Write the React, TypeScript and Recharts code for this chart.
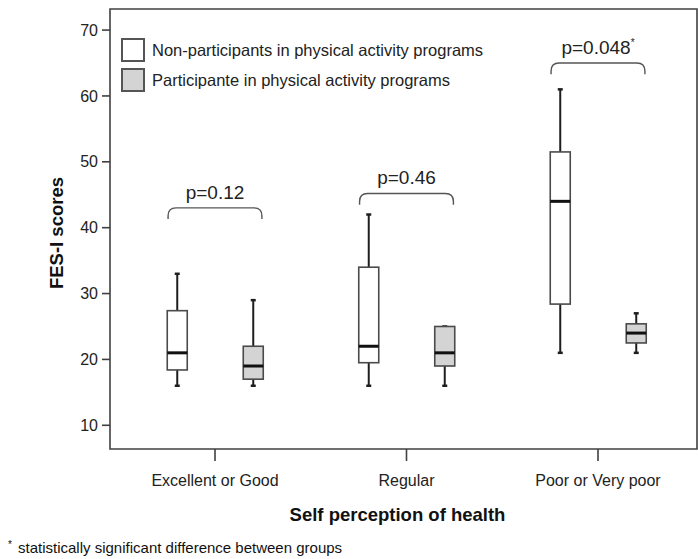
import React from 'react';
import { ComposedChart, Bar, XAxis, YAxis, ReferenceArea, Legend, Label } from 'recharts';

const FONT = '"Liberation Sans", Arial, Helvetica, sans-serif';

const categories = ['Excellent or Good', 'Regular', 'Poor or Very poor'];
const categoryPositions = [1, 2, 3];
const seriesNames = [
  'Non-participants in physical activity programs',
  'Participante in physical activity programs',
];
const seriesFills = ['#ffffff', '#d4d4d4'];

const nonPartMin = [16, 16, 21];
const nonPartQ1 = [18.4, 19.5, 28.4];
const nonPartMedian = [21, 22, 44];
const nonPartQ3 = [27.4, 34, 51.5];
const nonPartMax = [33, 42, 61];

const partMin = [16, 16, 21];
const partQ1 = [17, 19, 22.5];
const partMedian = [19, 21, 24];
const partQ3 = [22, 25, 25.4];
const partMax = [29, 25, 27];

const yTicks = [10, 20, 30, 40, 50, 60, 70];
const pLabels = ['p=0.12', 'p=0.46', 'p=0.048'];
const pSignificant = [false, false, true];
const bracketLevels = [43.0, 45.2, 65.0];

const X_DOMAIN: [number, number] = [0.4517, 3.517];
const Y_DOMAIN: [number, number] = [6.4, 73.2];

const data = categories.map((name, i) => ({
  x: categoryPositions[i],
  name,
  nonPart: [nonPartMin[i], nonPartMax[i]],
  nonPartStats: { min: nonPartMin[i], q1: nonPartQ1[i], median: nonPartMedian[i], q3: nonPartQ3[i], max: nonPartMax[i] },
  part: [partMin[i], partMax[i]],
  partStats: { min: partMin[i], q1: partQ1[i], median: partMedian[i], q3: partQ3[i], max: partMax[i] },
}));

const makeBoxShape = (statsKey: string, fill: string) => (props: any) => {
  const { x, y, width, height, payload } = props;
  const s = payload[statsKey];
  const top = Math.min(y, y + height);
  const bottom = Math.max(y, y + height);
  const k = (bottom - top) / (s.max - s.min);
  const yOf = (v: number) => bottom - (v - s.min) * k;
  const cx = x + width / 2;
  const wStroke = '#1e1e1e';
  return (
    <g>
      <line x1={cx} x2={cx} y1={yOf(s.max)} y2={yOf(s.q3)} stroke={wStroke} strokeWidth={2} />
      <line x1={cx} x2={cx} y1={yOf(s.q1)} y2={yOf(s.min)} stroke={wStroke} strokeWidth={2} />
      <line x1={cx - 2.5} x2={cx + 2.5} y1={yOf(s.max)} y2={yOf(s.max)} stroke={wStroke} strokeWidth={2.5} />
      <line x1={cx - 2.5} x2={cx + 2.5} y1={yOf(s.min)} y2={yOf(s.min)} stroke={wStroke} strokeWidth={2.5} />
      <rect
        x={x}
        y={yOf(s.q3)}
        width={width}
        height={yOf(s.q1) - yOf(s.q3)}
        fill={fill}
        stroke="#4a4a4a"
        strokeWidth={1.6}
      />
      <line x1={x} x2={x + width} y1={yOf(s.median)} y2={yOf(s.median)} stroke="#111" strokeWidth={3} />
    </g>
  );
};

const nonPartShape = makeBoxShape('nonPartStats', seriesFills[0]);
const partShape = makeBoxShape('partStats', seriesFills[1]);

const makeBracket = (label: string, star: boolean) => (props: any) => {
  const { x, y, width, height } = props;
  const top = Math.min(y, y + height);
  const bottom = Math.max(y, y + height);
  const r = 8;
  const left = x;
  const right = x + width;
  const d = `M ${left} ${bottom} L ${left} ${top + r} Q ${left} ${top} ${left + r} ${top} L ${right - r} ${top} Q ${right} ${top} ${right} ${top + r} L ${right} ${bottom}`;
  return (
    <g>
      <path d={d} fill="none" stroke="#555" strokeWidth={1.4} />
      <text x={x + width / 2} y={top - 9} textAnchor="middle" fontFamily={FONT} fontSize={19} fill="#222">
        {label}
        {star ? (
          <tspan fontSize={10} dy={-8}>
            *
          </tspan>
        ) : null}
      </text>
    </g>
  );
};

const YTitle = (props: any) => {
  const vb = props.viewBox || { x: 0, y: 9, width: 110, height: 440 };
  const cx = vb.x + 63;
  const cy = vb.y + vb.height / 2 + 4;
  return (
    <text x={cx} y={cy} transform={`rotate(-90 ${cx} ${cy})`} textAnchor="middle" fontFamily={FONT} fontSize={18.5} fontWeight="bold" fill="#111">
      FES-I scores
    </text>
  );
};

const XTitle = (props: any) => {
  const vb = props.viewBox || { x: 110, y: 449, width: 587, height: 40 };
  return (
    <text x={vb.x + vb.width / 2 - 6} y={vb.y + 72} textAnchor="middle" fontFamily={FONT} fontSize={18.5} fontWeight="bold" fill="#111">
      Self perception of health
    </text>
  );
};

const Footnote = (props: any) => {
  const vb = props.viewBox || { x: 110, y: 449, width: 587, height: 40 };
  return (
    <text x={8} y={vb.y + 104} fontFamily={FONT} fontSize={15} fill="#111">
      <tspan fontSize={10} dy={-5}>*</tspan>
      <tspan x={18} dy={5}>statistically significant difference between groups</tspan>
    </text>
  );
};

const LegendContent = () => (
  <div style={{ fontFamily: FONT, fontSize: 16.5, color: '#222' }}>
    {seriesNames.map((n, i) => (
      <div key={n} style={{ display: 'flex', alignItems: 'center', height: 24, marginBottom: 6 }}>
        <div
          style={{
            width: 24,
            height: 24,
            boxSizing: 'border-box',
            border: '2px solid #555',
            background: seriesFills[i],
            marginRight: 7,
          }}
        />
        <span style={{ whiteSpace: 'nowrap' }}>{n}</span>
      </div>
    ))}
  </div>
);

export default function App() {
  return (
    <div style={{ position: 'absolute', left: 0, top: 0, width: 698, height: 559, background: '#fff' }}>
      <ComposedChart
        width={698}
        height={559}
        data={data}
        margin={{ top: 9, right: 1, left: 0, bottom: 70 }}
        barGap={56}
      >
        <XAxis
          type="number"
          dataKey="x"
          domain={X_DOMAIN}
          allowDataOverflow
          ticks={categoryPositions}
          interval={0}
          tickFormatter={(v: number) => categories[categoryPositions.indexOf(v)] ?? ''}
          height={40}
          tickSize={12}
          tickMargin={14}
          axisLine={false}
          tickLine={{ stroke: '#404040', strokeWidth: 1.6 }}
          tick={{ fill: '#222', fontSize: 16, fontFamily: FONT }}
        >
          <Label content={XTitle} />
          <Label content={Footnote} />
        </XAxis>
        <YAxis
          type="number"
          domain={Y_DOMAIN}
          allowDataOverflow
          ticks={yTicks}
          interval={0}
          width={110}
          tickSize={8}
          tickMargin={4}
          axisLine={false}
          tickLine={{ stroke: '#404040', strokeWidth: 1.6 }}
          tick={{ fill: '#222', fontSize: 16, fontFamily: FONT }}
        >
          <Label content={YTitle} />
        </YAxis>
        <ReferenceArea
          x1={X_DOMAIN[0]}
          x2={X_DOMAIN[1]}
          y1={Y_DOMAIN[0]}
          y2={Y_DOMAIN[1]}
          fill="none"
          fillOpacity={0}
          stroke="#404040"
          strokeWidth={1.6}
          ifOverflow="visible"
        />
        <Legend
          layout="horizontal"
          verticalAlign="middle"
          align="center"
          content={LegendContent}
          wrapperStyle={{ left: 121, top: 38, width: 'auto', height: 'auto' }}
        />
        <Bar dataKey="nonPart" barSize={20} shape={nonPartShape} isAnimationActive={false} />
        <Bar dataKey="part" barSize={20} shape={partShape} isAnimationActive={false} />
        {categoryPositions.map((g, i) => (
          <ReferenceArea
            key={`br-${g}`}
            x1={g - 0.245}
            x2={g + 0.245}
            y1={bracketLevels[i] - 1.7}
            y2={bracketLevels[i]}
            ifOverflow="visible"
            shape={makeBracket(pLabels[i], pSignificant[i])}
          />
        ))}
      </ComposedChart>
    </div>
  );
}
